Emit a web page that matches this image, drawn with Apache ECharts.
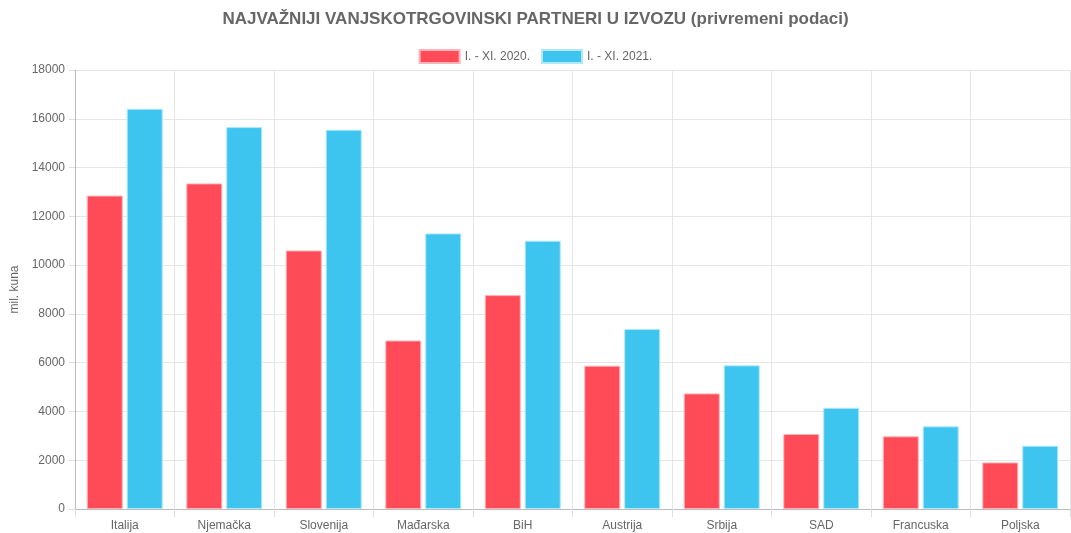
<!DOCTYPE html>
<html>
<head>
<meta charset="utf-8">
<script src="https://cdn.jsdelivr.net/npm/echarts@6/dist/echarts.min.js"></script>
<style>
  html, body { margin: 0; padding: 0; background: #fff; }
  #chart { width: 1071px; height: 533px; }
</style>
</head>
<body>
<div id="chart"></div>
<script>
var categories = ['Italija', 'Njemačka', 'Slovenija', 'Mađarska', 'BiH', 'Austrija', 'Srbija', 'SAD', 'Francuska', 'Poljska'];
var values2020 = [12850, 13350, 10600, 6910, 8770, 5875, 4740, 3075, 2980, 1910];
var values2021 = [16410, 15660, 15550, 11300, 11000, 7380, 5890, 4150, 3390, 2595];
var seriesNames = ['I. - XI. 2020.', 'I. - XI. 2021.'];

var font = '"Liberation Sans", Arial, sans-serif';
var chart = echarts.init(document.getElementById('chart'), null, { renderer: 'canvas' });

var option = {
  animation: false,
  textStyle: { fontFamily: font },
  title: {
    text: 'NAJVAŽNIJI VANJSKOTRGOVINSKI PARTNERI U IZVOZU (privremeni podaci)',
    left: 'center',
    top: 6,
    textStyle: { fontSize: 17, fontWeight: 'bold', color: '#666', fontFamily: font }
  },
  legend: {
    top: 44,
    left: 'center',
    itemWidth: 40,
    itemHeight: 13,
    itemGap: 11,
    icon: 'rect',
    textStyle: { fontSize: 12, color: '#666', fontFamily: font },
    data: seriesNames
  },
  grid: { left: 75, right: 1, top: 70, bottom: 24, containLabel: false },
  xAxis: {
    type: 'category',
    data: categories,
    axisLine: { lineStyle: { color: '#bbb' } },
    axisTick: { show: true, length: 8, lineStyle: { color: '#ddd' } },
    splitLine: { show: true, lineStyle: { color: '#e6e6e6' } },
    axisLabel: { color: '#666', fontSize: 12, margin: 11, fontFamily: font }
  },
  yAxis: {
    type: 'value',
    min: 0,
    max: 18000,
    interval: 2000,
    name: 'mil. kuna',
    nameLocation: 'middle',
    nameGap: 51,
    nameTextStyle: { color: '#666', fontSize: 12, fontFamily: font },
    axisLine: { show: true, lineStyle: { color: '#bbb' } },
    axisTick: { show: true, length: 6, lineStyle: { color: '#ddd' } },
    splitLine: { show: true, lineStyle: { color: '#e6e6e6' } },
    axisLabel: {
      color: '#666', fontSize: 12, margin: 10, fontFamily: font,
      formatter: function (v) { return String(v); }
    }
  },
  series: [
    {
      name: seriesNames[0],
      type: 'bar',
      data: values2020,
      barWidth: 36,
      barGap: '11%',
      itemStyle: { color: '#FF4B57', borderColor: '#ffb3b8', borderWidth: 1 }
    },
    {
      name: seriesNames[1],
      type: 'bar',
      data: values2021,
      barWidth: 36,
      itemStyle: { color: '#3DC5EF', borderColor: '#b0e8fa', borderWidth: 1 }
    }
  ]
};

chart.setOption(option);
</script>
</body>
</html>
